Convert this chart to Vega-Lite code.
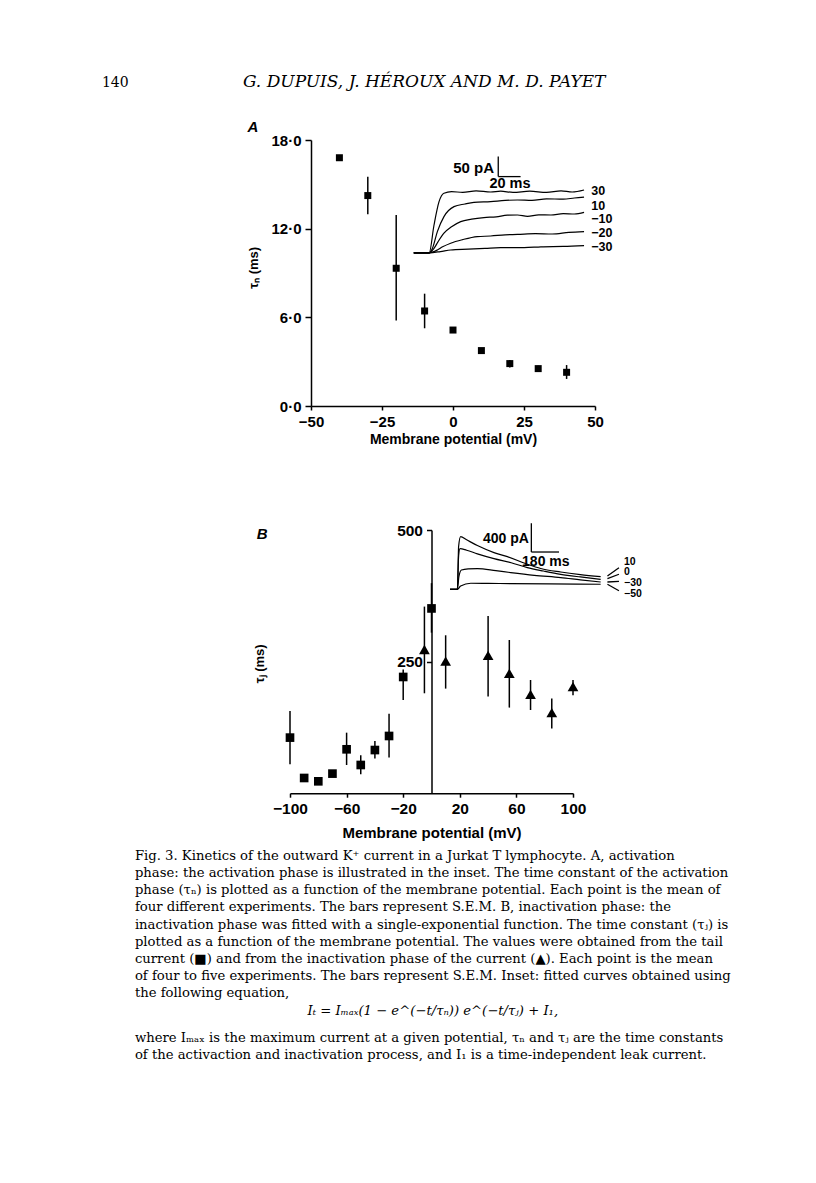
{
  "$schema": "https://vega.github.io/schema/vega-lite/v6.json",
  "background": "white",
  "padding": {"left": 101, "top": 73, "right": 0, "bottom": 0},
  "config": {
    "view": {"stroke": null},
    "axis": {"grid": false, "domainColor": "black", "tickColor": "black", "labelColor": "black", "titleColor": "black", "labelFont": "Liberation Sans", "titleFont": "Liberation Sans", "labelFontWeight": "bold", "titleFontWeight": "bold", "domainWidth": 1.5, "tickWidth": 1.5, "labelFlush": false, "labelOverlap": false}
  },
  "title": {"text": "G. DUPUIS, J. HÉROUX AND M. D. PAYET", "anchor": "start", "frame": "bounds", "dx": 141, "offset": -15, "font": "DejaVu Serif", "fontSize": 17, "fontStyle": "italic", "fontWeight": "normal", "color": "black"},
  "vconcat": [
    {
      "title": {"text": "140", "anchor": "start", "frame": "bounds", "dx": -33, "offset": 30, "font": "DejaVu Serif", "fontSize": 14, "fontWeight": "normal", "color": "black"},
      "vconcat": [
        {
          "title": {"text": ["where Iₘₐₓ is the maximum current at a given potential, τₙ and τⱼ are the time constants", "of the activaction and inactivation process, and I₁ is a time-independent leak current."], "orient": "bottom", "anchor": "start", "frame": "bounds", "offset": 15, "lineHeight": 17, "font": "DejaVu Serif", "fontSize": 13.2, "fontWeight": "normal", "color": "black"},
          "vconcat": [
            {
              "title": {"text": "Iₜ = Iₘₐₓ(1 − e^(−t/τₙ)) e^(−t/τⱼ) + I₁,", "orient": "bottom", "anchor": "middle", "frame": "bounds", "offset": 6, "font": "DejaVu Serif", "fontSize": 13.2, "fontStyle": "italic", "fontWeight": "normal", "color": "black"},
              "vconcat": [
                {
                  "title": {"text": [
                    "Fig. 3. Kinetics of the outward K⁺ current in a Jurkat T lymphocyte. A, activation",
                    "phase: the activation phase is illustrated in the inset. The time constant of the activation",
                    "phase (τₙ) is plotted as a function of the membrane potential. Each point is the mean of",
                    "four different experiments. The bars represent S.E.M. B, inactivation phase: the",
                    "inactivation phase was fitted with a single-exponential function. The time constant (τⱼ) is",
                    "plotted as a function of the membrane potential. The values were obtained from the tail",
                    "current (■) and from the inactivation phase of the current (▲). Each point is the mean",
                    "of four to five experiments. The bars represent S.E.M. Inset: fitted curves obtained using",
                    "the following equation,"
                  ], "orient": "bottom", "anchor": "start", "frame": "bounds", "dx": -112.5, "offset": 9.5, "lineHeight": 17.1, "font": "DejaVu Serif", "fontSize": 13.2, "fontWeight": "normal", "color": "black"},
                  "spacing": 76,
                  "vconcat": [
                    {
                      "width": 305,
                      "height": 266,
                      "title": {"text": "A", "anchor": "start", "frame": "group", "dx": -42.6, "offset": -2, "font": "Liberation Sans", "fontSize": 15, "fontStyle": "italic", "fontWeight": "bold", "color": "black"},
                      "resolve": {"scale": {"x": "independent", "y": "independent"}},
                      "layer": [
                        {
                          "data": {"values": [
                            {"potential": -40, "tau": 16.8},
                            {"potential": -30, "tau": 14.24, "lo": 12.97, "hi": 15.52},
                            {"potential": -20, "tau": 9.32, "lo": 5.78, "hi": 12.92},
                            {"potential": -10, "tau": 6.43, "lo": 5.26, "hi": 7.6},
                            {"potential": 0, "tau": 5.14},
                            {"potential": 10, "tau": 3.75},
                            {"potential": 20, "tau": 2.87, "lo": 2.6, "hi": 3.11},
                            {"potential": 30, "tau": 2.53, "lo": 2.35, "hi": 2.72},
                            {"potential": 40, "tau": 2.28, "lo": 1.83, "hi": 2.77}
                          ]},
                          "encoding": {
                            "x": {"field": "potential", "type": "quantitative", "scale": {"domain": [-50, 50], "nice": false, "zero": false, "rangeMin": 21},
                              "axis": {"values": [-50, -25, 0, 25, 50], "title": "Membrane potential (mV)", "tickSize": 4, "labelPadding": 4, "labelFontSize": 15, "titleFontSize": 14, "titlePadding": 3}}
                          },
                          "layer": [
                            {"mark": {"type": "rule", "color": "black", "strokeWidth": 1.5},
                             "encoding": {
                               "y": {"field": "lo", "type": "quantitative", "scale": {"domain": [0, 18], "nice": false, "zero": false},
                                 "axis": {"values": [0, 6, 12, 18], "labelExpr": "replace(format(datum.value, '.1f'), '.', '·')", "offset": -21, "tickSize": 6, "labelPadding": 4, "labelFontSize": 15, "title": "τₙ (ms)", "titleFontSize": 13, "titleX": -57.3, "titleY": 127.3, "titleAngle": 270, "titleAlign": "center", "titleBaseline": "middle"}},
                               "y2": {"field": "hi"}
                             }},
                            {"mark": {"type": "point", "shape": "square", "filled": true, "color": "black", "opacity": 1, "size": 49},
                             "encoding": {
                               "y": {"field": "tau", "type": "quantitative", "scale": {"domain": [0, 18], "nice": false, "zero": false},
                                 "axis": {"values": [0, 6, 12, 18], "labelExpr": "replace(format(datum.value, '.1f'), '.', '·')", "offset": -21, "tickSize": 6, "labelPadding": 4, "labelFontSize": 15, "title": "τₙ (ms)", "titleFontSize": 13, "titleX": -57.3, "titleY": 127.3, "titleAngle": 270, "titleAlign": "center", "titleBaseline": "middle"}}
                             }}
                          ]
                        },
                        {
                          "layer": [
                            {
                              "data": {"values": [
                                {"trace": "30", "t": -13.8, "I": 0}, {"trace": "30", "t": 0, "I": 0}, {"trace": "30", "t": 4.3, "I": 69.5}, {"trace": "30", "t": 8.8, "I": 128}, {"trace": "30", "t": 13.2, "I": 149}, {"trace": "30", "t": 20, "I": 153}, {"trace": "30", "t": 30, "I": 151}, {"trace": "30", "t": 42, "I": 155}, {"trace": "30", "t": 55, "I": 152}, {"trace": "30", "t": 64, "I": 154}, {"trace": "30", "t": 75, "I": 151}, {"trace": "30", "t": 90, "I": 154}, {"trace": "30", "t": 105, "I": 151}, {"trace": "30", "t": 118, "I": 155}, {"trace": "30", "t": 128, "I": 152}, {"trace": "30", "t": 138.6, "I": 157},
                                {"trace": "10", "t": -13.8, "I": 0}, {"trace": "10", "t": 0, "I": 0}, {"trace": "10", "t": 3, "I": 12}, {"trace": "10", "t": 7.3, "I": 53}, {"trace": "10", "t": 13.2, "I": 90.5}, {"trace": "10", "t": 22.2, "I": 115.5}, {"trace": "10", "t": 32, "I": 122}, {"trace": "10", "t": 40, "I": 126}, {"trace": "10", "t": 55, "I": 128}, {"trace": "10", "t": 68, "I": 131}, {"trace": "10", "t": 79, "I": 132}, {"trace": "10", "t": 92, "I": 131}, {"trace": "10", "t": 105, "I": 135}, {"trace": "10", "t": 120, "I": 134}, {"trace": "10", "t": 130, "I": 137}, {"trace": "10", "t": 138.6, "I": 139},
                                {"trace": "-10", "t": -13.8, "I": 0}, {"trace": "-10", "t": 0, "I": 0}, {"trace": "-10", "t": 4.3, "I": 11}, {"trace": "-10", "t": 8, "I": 28}, {"trace": "-10", "t": 13.2, "I": 49}, {"trace": "-10", "t": 20, "I": 65}, {"trace": "-10", "t": 28.2, "I": 78}, {"trace": "-10", "t": 38, "I": 84}, {"trace": "-10", "t": 49, "I": 88}, {"trace": "-10", "t": 60, "I": 90}, {"trace": "-10", "t": 70, "I": 94}, {"trace": "-10", "t": 79, "I": 94.5}, {"trace": "-10", "t": 88, "I": 91}, {"trace": "-10", "t": 98, "I": 95}, {"trace": "-10", "t": 109, "I": 94.5}, {"trace": "-10", "t": 120, "I": 98}, {"trace": "-10", "t": 130, "I": 97}, {"trace": "-10", "t": 138.6, "I": 101},
                                {"trace": "-20", "t": -13.8, "I": 0}, {"trace": "-20", "t": 0, "I": 0}, {"trace": "-20", "t": 7.3, "I": 7}, {"trace": "-20", "t": 12, "I": 15}, {"trace": "-20", "t": 19.2, "I": 24}, {"trace": "-20", "t": 30, "I": 33}, {"trace": "-20", "t": 43, "I": 40.5}, {"trace": "-20", "t": 55, "I": 42}, {"trace": "-20", "t": 68, "I": 45}, {"trace": "-20", "t": 79, "I": 46}, {"trace": "-20", "t": 95, "I": 48}, {"trace": "-20", "t": 110, "I": 47}, {"trace": "-20", "t": 125, "I": 51}, {"trace": "-20", "t": 138.6, "I": 53},
                                {"trace": "-30", "t": -13.8, "I": 0}, {"trace": "-30", "t": 0, "I": 0}, {"trace": "-30", "t": 10, "I": 3}, {"trace": "-30", "t": 19.2, "I": 7}, {"trace": "-30", "t": 35, "I": 9}, {"trace": "-30", "t": 50, "I": 11}, {"trace": "-30", "t": 64, "I": 13}, {"trace": "-30", "t": 85, "I": 13}, {"trace": "-30", "t": 100, "I": 15}, {"trace": "-30", "t": 120, "I": 16}, {"trace": "-30", "t": 138.6, "I": 18}
                              ]},
                              "mark": {"type": "line", "color": "black", "strokeWidth": 1.2, "interpolate": "monotone"},
                              "encoding": {
                                "x": {"field": "t", "type": "quantitative", "scale": {"domain": [-124.6, 148.4], "nice": false, "zero": false}, "axis": null},
                                "y": {"field": "I", "type": "quantitative", "scale": {"domain": [-383, 282], "nice": false, "zero": false}, "axis": null},
                                "detail": {"field": "trace", "type": "nominal"}
                              }
                            },
                            {
                              "data": {"values": [
                                {"t1": 61.8, "t2": 61.8, "i1": 240.5, "i2": 190.5},
                                {"t1": 61.8, "t2": 81.8, "i1": 190.5, "i2": 190.5}
                              ]},
                              "mark": {"type": "rule", "color": "black", "strokeWidth": 1.3},
                              "encoding": {
                                "x": {"field": "t1", "type": "quantitative", "scale": {"domain": [-124.6, 148.4], "nice": false, "zero": false}, "axis": null},
                                "x2": {"field": "t2"},
                                "y": {"field": "i1", "type": "quantitative", "scale": {"domain": [-383, 282], "nice": false, "zero": false}, "axis": null},
                                "y2": {"field": "i2"}
                              }
                            },
                            {
                              "data": {"values": [{"t": 58, "I": 211, "label": "50 pA"}]},
                              "mark": {"type": "text", "align": "right", "baseline": "middle", "font": "Liberation Sans", "fontWeight": "bold", "fontSize": 15, "color": "black"},
                              "encoding": {
                                "x": {"field": "t", "type": "quantitative", "scale": {"domain": [-124.6, 148.4], "nice": false, "zero": false}, "axis": null},
                                "y": {"field": "I", "type": "quantitative", "scale": {"domain": [-383, 282], "nice": false, "zero": false}, "axis": null},
                                "text": {"field": "label"}
                              }
                            },
                            {
                              "data": {"values": [{"t": 72.3, "I": 171, "label": "20 ms"}]},
                              "mark": {"type": "text", "align": "center", "baseline": "middle", "font": "Liberation Sans", "fontWeight": "bold", "fontSize": 14.5, "color": "black"},
                              "encoding": {
                                "x": {"field": "t", "type": "quantitative", "scale": {"domain": [-124.6, 148.4], "nice": false, "zero": false}, "axis": null},
                                "y": {"field": "I", "type": "quantitative", "scale": {"domain": [-383, 282], "nice": false, "zero": false}, "axis": null},
                                "text": {"field": "label"}
                              }
                            },
                            {
                              "data": {"values": [
                                {"t": 145, "I": 155, "label": "30"},
                                {"t": 145, "I": 118, "label": "10"},
                                {"t": 145, "I": 85, "label": "−10"},
                                {"t": 145, "I": 50, "label": "−20"},
                                {"t": 145, "I": 15, "label": "−30"}
                              ]},
                              "mark": {"type": "text", "align": "left", "baseline": "middle", "font": "Liberation Sans", "fontWeight": "bold", "fontSize": 12.5, "color": "black"},
                              "encoding": {
                                "x": {"field": "t", "type": "quantitative", "scale": {"domain": [-124.6, 148.4], "nice": false, "zero": false}, "axis": null},
                                "y": {"field": "I", "type": "quantitative", "scale": {"domain": [-383, 282], "nice": false, "zero": false}, "axis": null},
                                "text": {"field": "label"}
                              }
                            }
                          ]
                        }
                      ]
                    },
                    {
                      "width": 283,
                      "height": 263.2,
                      "title": {"text": "B", "anchor": "start", "frame": "group", "dx": -33.3, "offset": -19.6, "font": "Liberation Sans", "fontSize": 15, "fontStyle": "italic", "fontWeight": "bold", "color": "black"},
                      "resolve": {"scale": {"x": "independent", "y": "independent"}},
                      "layer": [
                        {
                          "data": {"values": [
                            {"potential": -100, "tau": 105.6, "lo": 55, "hi": 156, "kind": "tail"},
                            {"potential": -90, "tau": 28.9, "kind": "tail"},
                            {"potential": -80, "tau": 22.6, "kind": "tail"},
                            {"potential": -70, "tau": 37.2, "kind": "tail"},
                            {"potential": -60, "tau": 83.4, "lo": 53.6, "hi": 115, "kind": "tail"},
                            {"potential": -50, "tau": 53.6, "lo": 36, "hi": 72, "kind": "tail"},
                            {"potential": -40, "tau": 82, "lo": 65.7, "hi": 99, "kind": "tail"},
                            {"potential": -30, "tau": 108.7, "lo": 67.6, "hi": 151, "kind": "tail"},
                            {"potential": -20, "tau": 220.8, "lo": 177, "hi": 235, "kind": "tail"},
                            {"potential": 0, "tau": 351, "lo": 305, "hi": 399, "kind": "tail"},
                            {"potential": -5, "tau": 273, "lo": 189.8, "hi": 354.5, "kind": "inact"},
                            {"potential": 10, "tau": 251, "lo": 198.7, "hi": 300, "kind": "inact"},
                            {"potential": 40, "tau": 262, "lo": 183.5, "hi": 336.6, "kind": "inact"},
                            {"potential": 55, "tau": 227.8, "lo": 162.6, "hi": 291, "kind": "inact"},
                            {"potential": 70, "tau": 187.9, "lo": 158, "hi": 215, "kind": "inact"},
                            {"potential": 85, "tau": 153, "lo": 123, "hi": 180, "kind": "inact"},
                            {"potential": 100, "tau": 202.5, "lo": 186, "hi": 215, "kind": "inact"}
                          ]},
                          "encoding": {
                            "x": {"field": "potential", "type": "quantitative", "scale": {"domain": [-100, 100], "nice": false, "zero": false},
                              "axis": {"values": [-100, -60, -20, 20, 60, 100], "title": "Membrane potential (mV)", "tickSize": 4, "labelPadding": 4, "labelFontSize": 15.5, "titleFontSize": 15, "titlePadding": 9}}
                          },
                          "layer": [
                            {"mark": {"type": "rule", "color": "black", "strokeWidth": 1.5},
                             "encoding": {
                               "y": {"field": "lo", "type": "quantitative", "scale": {"domain": [0, 500], "nice": false, "zero": false},
                                 "axis": {"values": [250, 500], "offset": -141.5, "tickSize": 5, "labelPadding": 4, "labelFontSize": 15.5, "title": "τⱼ (ms)", "titleFontSize": 13, "titleX": -171.8, "titleY": 133.3, "titleAngle": 270, "titleAlign": "center", "titleBaseline": "middle"}},
                               "y2": {"field": "hi"}
                             }},
                            {"mark": {"type": "point", "filled": true, "color": "black", "opacity": 1},
                             "encoding": {
                               "y": {"field": "tau", "type": "quantitative", "scale": {"domain": [0, 500], "nice": false, "zero": false},
                                 "axis": {"values": [250, 500], "offset": -141.5, "tickSize": 5, "labelPadding": 4, "labelFontSize": 15.5, "title": "τⱼ (ms)", "titleFontSize": 13, "titleX": -171.8, "titleY": 133.3, "titleAngle": 270, "titleAlign": "center", "titleBaseline": "middle"}},
                               "shape": {"field": "kind", "type": "nominal", "scale": {"domain": ["tail", "inact"], "range": ["square", "triangle-up"]}, "legend": null},
                               "size": {"field": "kind", "type": "nominal", "scale": {"domain": ["tail", "inact"], "range": [75, 115]}, "legend": null}
                             }}
                          ]
                        },
                        {
                          "layer": [
                            {
                              "data": {"values": [
                                {"trace": "10", "t": -48, "I": 0}, {"trace": "10", "t": 0, "I": 0}, {"trace": "10", "t": 8, "I": 600}, {"trace": "10", "t": 21, "I": 735}, {"trace": "10", "t": 60, "I": 690}, {"trace": "10", "t": 130, "I": 610}, {"trace": "10", "t": 238, "I": 512}, {"trace": "10", "t": 325, "I": 455}, {"trace": "10", "t": 455, "I": 349}, {"trace": "10", "t": 542, "I": 290}, {"trace": "10", "t": 672, "I": 241}, {"trace": "10", "t": 800, "I": 205}, {"trace": "10", "t": 932, "I": 177},
                                {"trace": "0", "t": -48, "I": 0}, {"trace": "0", "t": 0, "I": 0}, {"trace": "0", "t": 8, "I": 470}, {"trace": "0", "t": 17, "I": 568}, {"trace": "0", "t": 60, "I": 545}, {"trace": "0", "t": 130, "I": 495}, {"trace": "0", "t": 238, "I": 428}, {"trace": "0", "t": 350, "I": 370}, {"trace": "0", "t": 455, "I": 303}, {"trace": "0", "t": 560, "I": 255}, {"trace": "0", "t": 672, "I": 209}, {"trace": "0", "t": 800, "I": 172}, {"trace": "0", "t": 932, "I": 139},
                                {"trace": "-30", "t": -48, "I": 0}, {"trace": "-30", "t": 0, "I": 0}, {"trace": "-30", "t": 10, "I": 180}, {"trace": "-30", "t": 26, "I": 269}, {"trace": "-30", "t": 70, "I": 285}, {"trace": "-30", "t": 130, "I": 289}, {"trace": "-30", "t": 250, "I": 260}, {"trace": "-30", "t": 347, "I": 233}, {"trace": "-30", "t": 500, "I": 195}, {"trace": "-30", "t": 672, "I": 163}, {"trace": "-30", "t": 800, "I": 132}, {"trace": "-30", "t": 932, "I": 102},
                                {"trace": "-50", "t": -48, "I": 0}, {"trace": "-50", "t": 0, "I": 0}, {"trace": "-50", "t": 21, "I": 46}, {"trace": "-50", "t": 87, "I": 84}, {"trace": "-50", "t": 200, "I": 82}, {"trace": "-50", "t": 347, "I": 79}, {"trace": "-50", "t": 600, "I": 75}, {"trace": "-50", "t": 932, "I": 70}
                              ]},
                              "mark": {"type": "line", "color": "black", "strokeWidth": 1.2, "interpolate": "monotone"},
                              "encoding": {
                                "x": {"field": "t", "type": "quantitative", "scale": {"domain": [-1089, 752], "nice": false, "zero": false}, "axis": null},
                                "y": {"field": "I", "type": "quantitative", "scale": {"domain": [-2844, 827], "nice": false, "zero": false}, "axis": null},
                                "detail": {"field": "trace", "type": "nominal"}
                              }
                            },
                            {
                              "data": {"values": [
                                {"t1": 481, "t2": 481, "i1": 920, "i2": 520},
                                {"t1": 481, "t2": 661, "i1": 520, "i2": 520},
                                {"t1": 976, "t2": 1051, "i1": 186, "i2": 300},
                                {"t1": 976, "t2": 1051, "i1": 149, "i2": 210},
                                {"t1": 976, "t2": 1051, "i1": 102, "i2": 110},
                                {"t1": 976, "t2": 1051, "i1": 70, "i2": -20}
                              ]},
                              "mark": {"type": "rule", "color": "black", "strokeWidth": 1.3},
                              "encoding": {
                                "x": {"field": "t1", "type": "quantitative", "scale": {"domain": [-1089, 752], "nice": false, "zero": false}, "axis": null},
                                "x2": {"field": "t2"},
                                "y": {"field": "i1", "type": "quantitative", "scale": {"domain": [-2844, 827], "nice": false, "zero": false}, "axis": null},
                                "y2": {"field": "i2"}
                              }
                            },
                            {
                              "data": {"values": [{"t": 465, "I": 707, "label": "400 pA"}]},
                              "mark": {"type": "text", "align": "right", "baseline": "middle", "font": "Liberation Sans", "fontWeight": "bold", "fontSize": 14, "color": "black"},
                              "encoding": {
                                "x": {"field": "t", "type": "quantitative", "scale": {"domain": [-1089, 752], "nice": false, "zero": false}, "axis": null},
                                "y": {"field": "I", "type": "quantitative", "scale": {"domain": [-2844, 827], "nice": false, "zero": false}, "axis": null},
                                "text": {"field": "label"}
                              }
                            },
                            {
                              "data": {"values": [{"t": 575, "I": 386, "label": "180 ms"}]},
                              "mark": {"type": "text", "align": "center", "baseline": "middle", "font": "Liberation Sans", "fontWeight": "bold", "fontSize": 14, "color": "black"},
                              "encoding": {
                                "x": {"field": "t", "type": "quantitative", "scale": {"domain": [-1089, 752], "nice": false, "zero": false}, "axis": null},
                                "y": {"field": "I", "type": "quantitative", "scale": {"domain": [-2844, 827], "nice": false, "zero": false}, "axis": null},
                                "text": {"field": "label"}
                              }
                            },
                            {
                              "data": {"values": [
                                {"t": 1084, "I": 385, "label": "10"},
                                {"t": 1084, "I": 237, "label": "0"},
                                {"t": 1084, "I": 89, "label": "−30"},
                                {"t": 1084, "I": -59, "label": "−50"}
                              ]},
                              "mark": {"type": "text", "align": "left", "baseline": "middle", "font": "Liberation Sans", "fontWeight": "bold", "fontSize": 10.5, "color": "black"},
                              "encoding": {
                                "x": {"field": "t", "type": "quantitative", "scale": {"domain": [-1089, 752], "nice": false, "zero": false}, "axis": null},
                                "y": {"field": "I", "type": "quantitative", "scale": {"domain": [-2844, 827], "nice": false, "zero": false}, "axis": null},
                                "text": {"field": "label"}
                              }
                            }
                          ]
                        }
                      ]
                    }
                  ]
                }
              ]
            }
          ]
        }
      ]
    }
  ]
}
